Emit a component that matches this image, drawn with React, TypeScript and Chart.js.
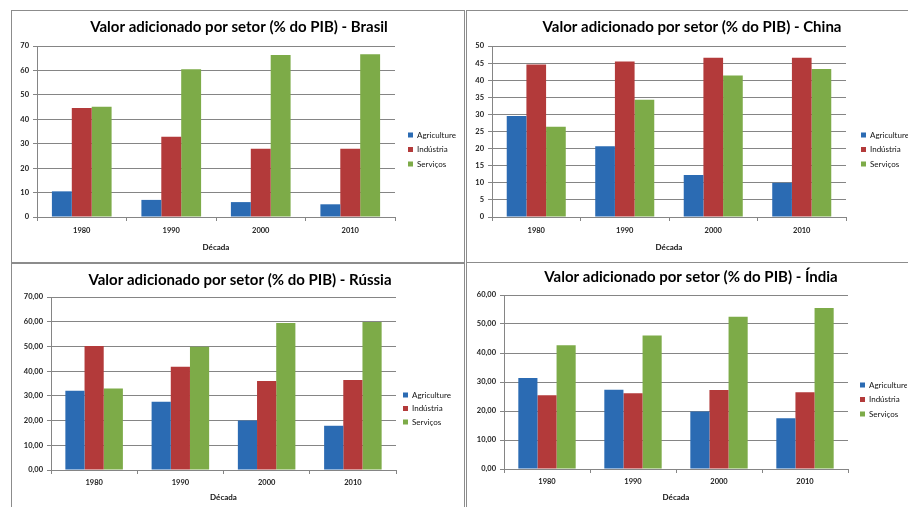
import React, { useEffect, useRef } from 'react';
import { Chart, registerables } from 'chart.js';

Chart.register(...registerables);

// ---------- data ----------
const categories = ['1980', '1990', '2000', '2010'];
const seriesNames = ['Agriculture', 'Indústria', 'Serviços'];

const brasilAgricultura = [10.5, 7.0, 6.1, 5.2];
const brasilIndustria = [44.6, 32.8, 27.9, 27.9];
const brasilServicos = [45.1, 60.5, 66.3, 66.6];

const chinaAgricultura = [29.5, 20.7, 12.3, 10.0];
const chinaIndustria = [44.6, 45.5, 46.6, 46.6];
const chinaServicos = [26.4, 34.3, 41.4, 43.3];

const russiaAgricultura = [32.1, 27.6, 20.0, 17.9];
const russiaIndustria = [50.2, 41.8, 36.0, 36.4];
const russiaServicos = [33.0, 49.9, 59.5, 59.9];

const indiaAgricultura = [31.4, 27.3, 19.8, 17.5];
const indiaIndustria = [25.4, 26.1, 27.2, 26.5];
const indiaServicos = [42.7, 46.0, 52.5, 55.5];

const titles = [
  'Valor adicionado por setor (% do PIB) - Brasil',
  'Valor adicionado por setor (% do PIB) - China',
  'Valor adicionado por setor (% do PIB) - Rússia',
  'Valor adicionado por setor (% do PIB) - Índia',
];
const yMaxes = [70, 50, 70, 60];
const ySteps = [10, 5, 10, 10];
const yDecimals = [0, 0, 2, 2];
const xAxisTitle = 'Década';

// ---------- styles ----------
const FONT = "Lato, 'Open Sans', sans-serif";
const COLORS = ['#2B6BB3', '#B33A3A', '#7DAB48'];
const GRID = '#858585';

type PanelLayout = {
  frame: { left: number; top: number; width: number; height: number };
  cw: number; ch: number;
  padL: number; padR: number;
  yWidth: number;
  titlePad: { top: number; bottom: number };
  xHeight: number; xTickPad: number; xTitlePadBottom: number;
  legendPad: number; legendTitlePad: number; legendMaxWidth: number;
  gap: number;
};

const layouts: PanelLayout[] = [
  {
    frame: { left: 11, top: 10, width: 454, height: 253 }, cw: 452, ch: 251,
    padL: 8, padR: 6, yWidth: 17, titlePad: { top: 7, bottom: 10 },
    xHeight: 45, xTickPad: 5, xTitlePadBottom: 10.2,
    legendPad: 6.5, legendTitlePad: 16.4, legendMaxWidth: 56.5, gap: 6.5,
  },
  {
    frame: { left: 466, top: 10, width: 454, height: 253 }, cw: 452, ch: 251,
    padL: 8, padR: 10, yWidth: 17, titlePad: { top: 7, bottom: 10 },
    xHeight: 45, xTickPad: 5, xTitlePadBottom: 10.2,
    legendPad: 6.5, legendTitlePad: 16.4, legendMaxWidth: 54.5, gap: 8.5,
  },
  {
    frame: { left: 11, top: 263, width: 454, height: 260 }, cw: 452, ch: 258,
    padL: 8, padR: 4, yWidth: 31, titlePad: { top: 7, bottom: 8 },
    xHeight: 52, xTickPad: 4, xTitlePadBottom: 20.2,
    legendPad: 5.5, legendTitlePad: 21.4, legendMaxWidth: 62.5, gap: 1.5,
  },
  {
    frame: { left: 466, top: 262, width: 454, height: 261 }, cw: 452, ch: 259,
    padL: 8, padR: 12, yWidth: 29, titlePad: { top: 5, bottom: 9 },
    xHeight: 53, xTickPad: 4, xTitlePadBottom: 20.2,
    legendPad: 6.5, legendTitlePad: 4.4, legendMaxWidth: 53.5, gap: 5.5,
  },
];

const panelData = [
  [brasilAgricultura, brasilIndustria, brasilServicos],
  [chinaAgricultura, chinaIndustria, chinaServicos],
  [russiaAgricultura, russiaIndustria, russiaServicos],
  [indiaAgricultura, indiaIndustria, indiaServicos],
];

function Panel({ index }: { index: number }) {
  const ref = useRef<HTMLCanvasElement>(null);
  const L = layouts[index];

  useEffect(() => {
    const canvas = ref.current;
    if (!canvas) return;
    const series = panelData[index];
    const dec = yDecimals[index];
    const chart = new Chart(canvas, {
      type: 'bar',
      data: {
        labels: categories,
        datasets: series.map((d, i) => ({
          label: seriesNames[i],
          data: d,
          backgroundColor: COLORS[i],
          borderWidth: 0,
          categoryPercentage: 0.667,
          barPercentage: 1,
          xAxisID: 'x',
          yAxisID: 'y',
        })),
      },
      options: {
        responsive: false,
        animation: false,
        devicePixelRatio: 1,
        layout: { padding: { left: L.padL, right: L.padR, top: 0, bottom: 0 } },
        plugins: {
          tooltip: { enabled: false },
          title: {
            display: true,
            text: titles[index],
            color: '#000',
            font: { family: FONT, size: 15, weight: 'bold', lineHeight: 1.2 },
            padding: L.titlePad,
          },
          legend: {
            display: true,
            position: 'right',
            align: 'center',
            maxWidth: L.legendMaxWidth,
            title: {
              display: true,
              text: '',
              font: { family: FONT, size: 8, lineHeight: 1.2 },
              padding: { top: L.legendTitlePad, bottom: 0 },
            },
            labels: {
              boxWidth: 5,
              boxHeight: 5,
              padding: L.legendPad,
              color: '#111',
              font: { family: FONT, size: 8 },
            },
          },
        },
        scales: {
          x: {
            type: 'category',
            position: 'bottom',
            grid: {
              display: true,
              drawOnChartArea: false,
              drawTicks: true,
              tickLength: 4,
              offset: true,
              color: GRID,
            },
            border: { display: true, color: GRID, width: 1 },
            ticks: {
              color: '#222',
              padding: L.xTickPad,
              font: { family: FONT, size: 7.5, weight: 'bold' },
              maxRotation: 0,
            },
            title: {
              display: true,
              text: xAxisTitle,
              color: '#111',
              font: { family: FONT, size: 8, weight: 'bold', lineHeight: 1.2 },
              padding: { top: 0, bottom: L.xTitlePadBottom },
            },
            afterFit: (s: any) => {
              s.height = L.xHeight;
            },
          },
          y: {
            type: 'linear',
            position: 'left',
            min: 0,
            max: yMaxes[index],
            grid: { color: GRID, tickLength: 4, drawTicks: true, lineWidth: 1 },
            border: { display: true, color: GRID, width: 1 },
            ticks: {
              stepSize: ySteps[index],
              color: '#222',
              padding: 4,
              font: { family: FONT, size: 7.5, weight: 'bold' },
              callback: (v: any) =>
                dec ? Number(v).toFixed(dec).replace('.', ',') : String(v),
            },
            afterFit: (s: any) => {
              s.width = L.yWidth;
            },
          },
          gap: {
            type: 'linear',
            position: 'right',
            display: true,
            grid: { display: false, drawTicks: false },
            border: { display: false },
            ticks: { display: false },
            afterFit: (s: any) => {
              s.width = L.gap;
            },
          },
        },
      },
    } as any);
    return () => chart.destroy();
  }, [index]);

  return (
    <div
      style={{
        position: 'absolute',
        left: L.frame.left,
        top: L.frame.top,
        width: L.frame.width,
        height: L.frame.height,
        border: '1px solid #8c8c8c',
        boxSizing: 'border-box',
        overflow: 'hidden',
        background: '#fff',
      }}
    >
      <canvas ref={ref} width={L.cw} height={L.ch} style={{ display: 'block' }} />
    </div>
  );
}

export default function App() {
  return (
    <div
      style={{
        position: 'absolute',
        left: 0,
        top: 0,
        width: 908,
        height: 507,
        overflow: 'hidden',
        background: '#fff',
      }}
    >
      <Panel index={0} />
      <Panel index={1} />
      <Panel index={2} />
      <Panel index={3} />
    </div>
  );
}
